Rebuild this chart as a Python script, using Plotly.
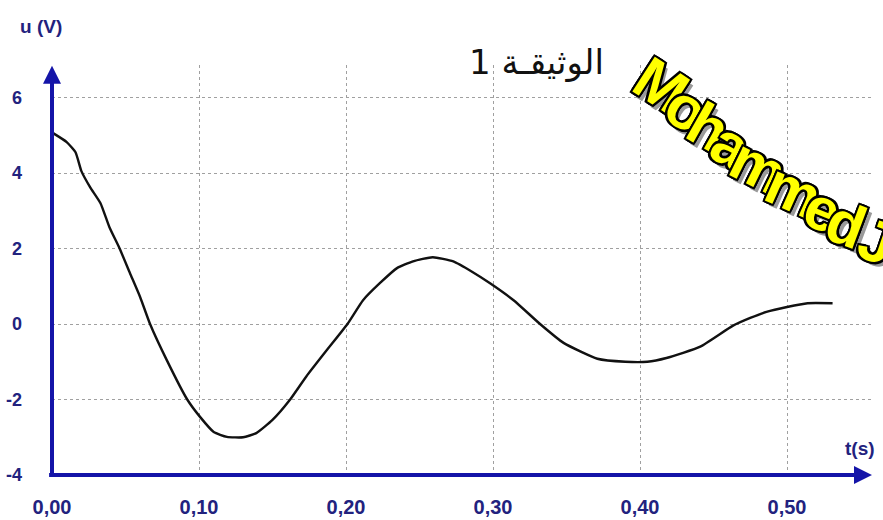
import math
import plotly.graph_objects as go

# ---- data ----
t_values = [0.001, 0.010, 0.016, 0.020, 0.026, 0.033, 0.039, 0.046, 0.053, 0.060,
            0.0667, 0.078, 0.092, 0.1007, 0.110, 0.119, 0.130, 0.139, 0.150, 0.162,
            0.173, 0.187, 0.201, 0.2116, 0.223, 0.2347, 0.2456, 0.259, 0.273, 0.286,
            0.298, 0.314, 0.332, 0.348, 0.371, 0.390, 0.405, 0.418, 0.441, 0.463,
            0.475, 0.486, 0.500, 0.514, 0.531]
u_values = [5.05, 4.82, 4.55, 4.05, 3.62, 3.20, 2.57, 2.00, 1.35, 0.71,
            0.00, -0.95, -2.00, -2.46, -2.86, -2.99, -3.00, -2.89, -2.54, -2.00,
            -1.39, -0.69, 0.00, 0.63, 1.08, 1.48, 1.66, 1.77, 1.66, 1.38,
            1.08, 0.63, 0.00, -0.50, -0.92, -1.00, -1.00, -0.90, -0.60, -0.05,
            0.16, 0.32, 0.45, 0.55, 0.55]

x_tickvals = [0.0, 0.1, 0.2, 0.3, 0.4, 0.5]
x_ticktext = ["0,00", "0,10", "0,20", "0,30", "0,40", "0,50"]
y_tickvals = [-4, -2, 0, 2, 4, 6]
y_ticktext = ["-4", "-2", "0", "2", "4", "6"]

title_text = "الوثيقـة 1"
x_label = "t(s)"
y_label = "u (V)"
watermark = "Mohammed J"

# ---- styling / layout ----
W, H = 883, 520
ML, MR, MT, MB = 52, 10, 65, 45
PW, PH = W - ML - MR, H - MT - MB
PX_PER_S = 1470.0
PX_PER_V = 37.75
x_max = PW / PX_PER_S
y_min = -4
y_max = y_min + PH / PX_PER_V

AXIS_BLUE = "#1414a8"
LABEL_BLUE = "#22227e"
LABEL_FONT = "Liberation Sans, Arial, sans-serif"


def px_to_paper(px, py):
    return (px - ML) / PW, (H - MB - py) / PH


def add_text(px, py, text, font, angle=0):
    xp, yp = px_to_paper(px, py)
    fig.add_annotation(xref="paper", yref="paper", x=xp, y=yp, text=text,
                       showarrow=False, xanchor="center", yanchor="middle",
                       textangle=angle, font=font)


fig = go.Figure()
fig.add_trace(go.Scatter(x=t_values, y=u_values, mode="lines",
                         line=dict(color="#111111", width=2.4, shape="spline", smoothing=0.5),
                         hoverinfo="skip", showlegend=False))

grid = dict(showline=False, zeroline=False, showgrid=True, automargin=False,
            gridcolor="#a0a0a0", griddash="dot", gridwidth=1, ticks="")
fig.update_layout(
    width=W, height=H,
    margin=dict(l=ML, r=MR, t=MT, b=MB, autoexpand=False),
    paper_bgcolor="white", plot_bgcolor="white",
    showlegend=False,
    xaxis=dict(range=[0, x_max], tickvals=x_tickvals, ticktext=x_ticktext,
               ticklabelstandoff=18,
               tickfont=dict(family=LABEL_FONT, size=20, color=LABEL_BLUE, weight="bold"),
               **grid),
    yaxis=dict(range=[y_min, y_max], tickvals=y_tickvals, ticktext=y_ticktext,
               ticklabelstandoff=29,
               tickfont=dict(family=LABEL_FONT, size=18, color=LABEL_BLUE, weight="bold"),
               **grid),
)

# axis arrows
fig.add_annotation(x=0.5578, y=y_min, ax=-0.003, ay=y_min, xref="x", yref="y",
                   axref="x", ayref="y", text="", showarrow=True, arrowhead=2,
                   arrowsize=0.9, arrowwidth=4, arrowcolor=AXIS_BLUE, standoff=0, startstandoff=0)
fig.add_annotation(x=0, y=6.84, ax=0, ay=-4.08, xref="x", yref="y",
                   axref="x", ayref="y", text="", showarrow=True, arrowhead=2,
                   arrowsize=0.9, arrowwidth=4, arrowcolor=AXIS_BLUE, standoff=0, startstandoff=0)

# axis labels and title
add_text(41, 27, y_label, dict(family=LABEL_FONT, size=19, color=LABEL_BLUE, weight="bold"))
add_text(860, 448, x_label, dict(family=LABEL_FONT, size=19, color=LABEL_BLUE, weight="bold"))
add_text(536, 62, title_text, dict(family="DejaVu Sans, sans-serif", size=34, color="#111111"))

# watermark: letters laid along a bending arc
wm_size = 60
adv = {"M": 0.833, "o": 0.611, "h": 0.611, "a": 0.556, "m": 0.889, "e": 0.556,
       "d": 0.611, " ": 0.15, "J": 0.556}
spacing = 0.8
total = sum(adv[c] for c in watermark) * wm_size * spacing
cx, cy = 646.0, 72.0
s = 0.0
shadow = ("-2px -2px 0 #000, 2px -2px 0 #000, -2px 2px 0 #000, 2px 2px 0 #000, "
          "0 -2px 0 #000, 0 2px 0 #000, -2px 0 0 #000, 2px 0 0 #000, 6px 3px 0 #9a9a9a")
wm_font = dict(family="Liberation Sans, Arial, sans-serif", size=wm_size,
               color="#ffff00", weight="bold", shadow=shadow)
for ch in watermark:
    w = adv[ch] * wm_size * spacing
    frac = (s + w / 2) / total
    ang = 44 - 16 * frac
    a = math.radians(ang)
    mx, my = cx + w / 2 * math.cos(a), cy + w / 2 * math.sin(a)
    cx, cy = cx + w * math.cos(a), cy + w * math.sin(a)
    s += w
    if ch == " ":
        continue
    add_text(mx, my, ch, wm_font, angle=ang - 10)

fig.write_html("out.html", config={"displayModeBar": False},
               post_script="document.body.style.margin='0px';")
